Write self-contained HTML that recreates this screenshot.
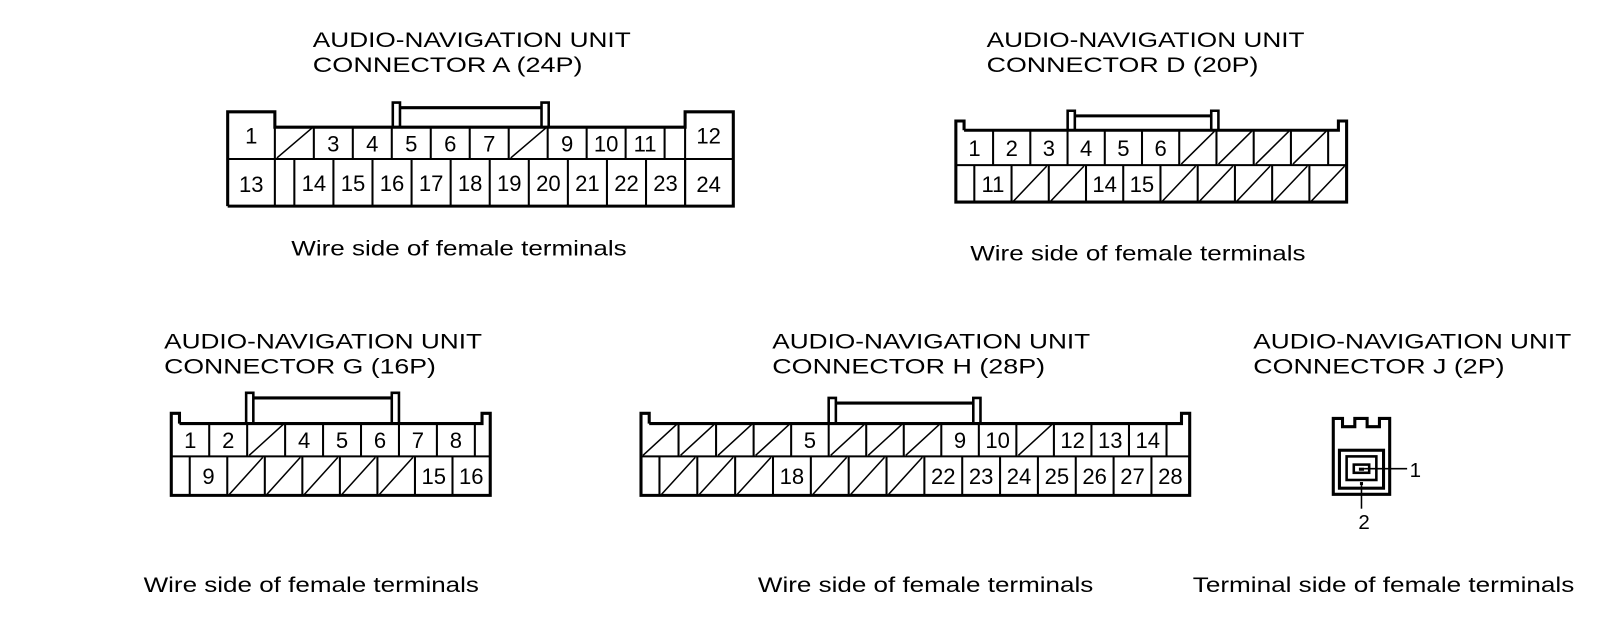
<!DOCTYPE html>
<html><head><meta charset="utf-8"><style>
html,body{margin:0;padding:0;background:#fff;}
svg{display:block;}
text{font-family:"Liberation Sans",Arial,sans-serif;fill:#000;}
</style></head><body>
<svg id="s" width="1600" height="620" viewBox="0 0 1600 620" xmlns="http://www.w3.org/2000/svg">
<g transform="scale(1.0256)">
<g font-size="20.5">
<text x="305" y="46" textLength="310" lengthAdjust="spacingAndGlyphs">AUDIO-NAVIGATION UNIT</text>
<text x="305" y="70" textLength="263" lengthAdjust="spacingAndGlyphs">CONNECTOR A (24P)</text>
<text x="962" y="46" textLength="310" lengthAdjust="spacingAndGlyphs">AUDIO-NAVIGATION UNIT</text>
<text x="962" y="70" textLength="265" lengthAdjust="spacingAndGlyphs">CONNECTOR D (20P)</text>
<text x="160" y="340" textLength="310" lengthAdjust="spacingAndGlyphs">AUDIO-NAVIGATION UNIT</text>
<text x="160" y="364" textLength="265" lengthAdjust="spacingAndGlyphs">CONNECTOR G (16P)</text>
<text x="753" y="340" textLength="310" lengthAdjust="spacingAndGlyphs">AUDIO-NAVIGATION UNIT</text>
<text x="753" y="364" textLength="266" lengthAdjust="spacingAndGlyphs">CONNECTOR H (28P)</text>
<text x="1222" y="340" textLength="310" lengthAdjust="spacingAndGlyphs">AUDIO-NAVIGATION UNIT</text>
<text x="1222" y="364" textLength="245" lengthAdjust="spacingAndGlyphs">CONNECTOR J (2P)</text>
<text x="284" y="249" textLength="327" lengthAdjust="spacingAndGlyphs">Wire side of female terminals</text>
<text x="946" y="254" textLength="327" lengthAdjust="spacingAndGlyphs">Wire side of female terminals</text>
<text x="140" y="577" textLength="327" lengthAdjust="spacingAndGlyphs">Wire side of female terminals</text>
<text x="739" y="577" textLength="327" lengthAdjust="spacingAndGlyphs">Wire side of female terminals</text>
<text x="1163" y="577" textLength="372" lengthAdjust="spacingAndGlyphs">Terminal side of female terminals</text>
</g>
<g id="d" stroke="#000" fill="none"></g>
<g id="t" font-size="21.5" text-anchor="middle"></g>
</g>
</svg>
<script>
var d=document.getElementById('d'),t=document.getElementById('t');
var NS="http://www.w3.org/2000/svg";
function el(p,n,a){var e=document.createElementNS(NS,n);for(var k in a)e.setAttribute(k,a[k]);p.appendChild(e);return e;}
function L(x1,y1,x2,y2,w){el(d,'line',{x1:x1,y1:y1,x2:x2,y2:y2,'stroke-width':w||2});}
function P(pts,w){el(d,'polyline',{points:pts,'stroke-width':w||3,'stroke-linejoin':'miter'});}
function T(x,y,s,fs){var e=el(t,'text',{x:x,y:y});if(fs)e.setAttribute('font-size',fs);e.textContent=s;}
function row(x0,pitch,y1,y2,labels){
  for(var i=0;i<labels.length;i++){
    var a=x0+i*pitch,b=a+pitch;
    L(b,y1,b,y2,2);
    if(labels[i]=='/')L(a+2,y2-1,b-2,y1+1,1.5);
    else if(labels[i])T((a+b)/2,(y1+y2)/2+8,labels[i]);
  }
}
function latch(x1,x2,yt,yb){
  P(x1+','+yb+' '+x1+','+yt+' '+(x1+7)+','+yt+' '+(x1+7)+','+yb,2.5);
  P(x2+','+yb+' '+x2+','+yt+' '+(x2-7)+','+yt+' '+(x2-7)+','+yb,2.5);
  L(x1+7,yt+5,x2-7,yt+5,3);
}
(function(){
 var l=222,r=715,top=109,bt=124,m=155,b=201;
 P(l+','+b+' '+l+','+top+' 268,'+top+' 268,'+bt+' 668,'+bt+' 668,'+top+' '+r+','+top+' '+r+','+b+' '+l+','+b+'',3);
 L(l,m,r,m,2);L(268,top,268,b,2);L(668,top,668,b,2);L(287,m,287,b,2);
 latch(383,535,100,bt);
 T(245,140,'1');T(245,187,'13');T(691,140,'12');T(691,187,'24');
 row(268,38,bt,m,['/','3','4','5','6','7','/','9','10','11']);
 row(287,38.1,m,b,['14','15','16','17','18','19','20','21','22','23']);
})();
(function(){
 var l=932,r=1313,nt=118,bt=127,m=161,b=197;
 P((l+8)+','+bt+' '+(l+8)+','+nt+' '+l+','+nt+' '+l+','+b+' '+r+','+b+' '+r+','+nt+' '+(r-8)+','+nt+' '+(r-8)+','+bt+' '+(l+8)+','+bt,3);
 L(l,m,r,m,2);
 latch(1041,1188,108,bt);
 row(l,36.3,bt,m,['1','2','3','4','5','6','/','/','/','/']);
 L(950,m,950,b,2);
 row(950,36.3,m,b,['11','/','/','14','15','/','/','/','/','/']);
})();
(function(){
 var l=167,r=478,nt=403,bt=413,m=445,b=483;
 P((l+8)+','+bt+' '+(l+8)+','+nt+' '+l+','+nt+' '+l+','+b+' '+r+','+b+' '+r+','+nt+' '+(r-8)+','+nt+' '+(r-8)+','+bt+' '+(l+8)+','+bt,3);
 L(l,m,r,m,2);
 latch(240,389,383,bt);
 row(l,37,bt,m,['1','2','/','4','5','6','7','8']);
 L(185,m,185,b,2);
 row(185,36.6,m,b,['9','/','/','/','/','/','15','16']);
})();
(function(){
 var l=625,r=1160,nt=403,bt=413,m=445,b=483;
 P((l+8)+','+bt+' '+(l+8)+','+nt+' '+l+','+nt+' '+l+','+b+' '+r+','+b+' '+r+','+nt+' '+(r-8)+','+nt+' '+(r-8)+','+bt+' '+(l+8)+','+bt,3);
 L(l,m,r,m,2);
 latch(808,956,388,bt);
 row(l,36.6,bt,m,['/','/','/','/','5','/','/','/','9','10','/','12','13','14']);
 L(643,m,643,b,2);
 row(643,36.9,m,b,['/','/','/','18','/','/','/','22','23','24','25','26','27','28']);
})();
(function(){
 var g=el(d,'g',{transform:'translate(-6,0)'});
 var sv=d; d=g;
 P('1306,482 1306,408 1315,408 1315,416 1327,416 1327,408 1339,408 1339,416 1351,416 1351,408 1361,408 1361,482 1306,482 1306,408',3);
 el(d,'rect',{x:1312,y:439,width:43,height:37,'stroke-width':3});
 el(d,'rect',{x:1319,y:445,width:29,height:23,'stroke-width':2.5});
 el(d,'rect',{x:1326,y:453,width:15,height:8,'stroke-width':2.5});
 el(d,'rect',{x:1331,y:456,width:5,height:3,fill:'#000','stroke-width':0});
 L(1336,457,1378,457,1.5);
 el(d,'rect',{x:1332,y:470,width:3,height:3,fill:'#000','stroke-width':0});
 L(1333.5,473,1333.5,496,1.5);
 d=sv;
 T(1380,465,'1',20);T(1330,516,'2',20);
})();
</script>
</body></html>
